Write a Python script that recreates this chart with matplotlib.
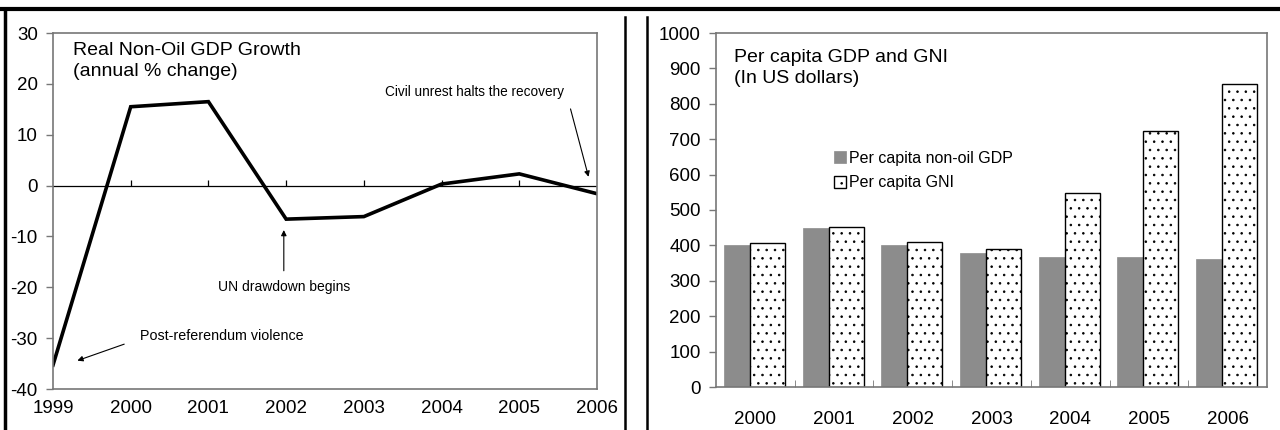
import numpy as np
import matplotlib.pyplot as plt
from matplotlib.lines import Line2D

plt.rcParams['font.family'] = ['Liberation Sans', 'DejaVu Sans']
plt.rcParams['axes.unicode_minus'] = False
plt.rcParams['hatch.linewidth'] = 0.6

# left panel data
years_growth = [1999, 2000, 2001, 2002, 2003, 2004, 2005, 2006]
growth = [-35.3, 15.5, 16.5, -6.6, -6.1, 0.3, 2.3, -1.6]

# right panel data
bar_years = ['2000', '2001', '2002', '2003', '2004', '2005', '2006']
gdp_pc = [402, 448, 402, 378, 367, 367, 362]
gni_pc = [408, 451, 410, 390, 548, 723, 857]

spine_col = '#777777'

fig = plt.figure(figsize=(12.8, 4.3), dpi=100)

# ---- left: growth line
ax1 = fig.add_axes([53/1280, 1-389/430, 544/1280, 356/430])
ax1.plot(years_growth, growth, color='black', lw=2.6, solid_joinstyle='miter')
ax1.axhline(0, color='black', lw=0.9)
ax1.vlines(years_growth[1:-1], 0, 1.1, color='black', lw=0.9)
ax1.set_xlim(1999, 2006)
ax1.set_ylim(-40, 30)
ax1.set_yticks(range(-40, 31, 10))
ax1.set_xticks(years_growth)
ax1.tick_params(axis='x', length=0, pad=8, labelsize=13.5)
ax1.tick_params(axis='y', length=5, width=1, color=spine_col, pad=6, labelsize=13.5)
for s in ax1.spines.values():
    s.set_color(spine_col)
    s.set_linewidth(1.2)

ax1.text(0.037, 0.975, 'Real Non-Oil GDP Growth\n(annual % change)',
         transform=ax1.transAxes, ha='left', va='top', fontsize=14, linespacing=1.3)

# annotations
arr = dict(arrowstyle='-|>', color='black', lw=0.8, mutation_scale=8)
ax1.text(2004.42, 18.4, 'Civil unrest halts the recovery', ha='center', va='center', fontsize=9.8)
ax1.annotate('', xy=(2005.9, 1.2), xytext=(2005.65, 15.6), arrowprops=arr)
ax1.text(2001.97, -19.9, 'UN drawdown begins', ha='center', va='center', fontsize=10)
ax1.annotate('', xy=(2001.97, -8.2), xytext=(2001.97, -17.3), arrowprops=arr)
ax1.text(2001.17, -29.6, 'Post-referendum violence', ha='center', va='center', fontsize=10.3)
ax1.annotate('', xy=(1999.28, -34.6), xytext=(1999.95, -31.0), arrowprops=arr)

# ---- right: per capita bars
ax2 = fig.add_axes([716/1280, 1-387/430, 551/1280, 354/430])
x = np.arange(len(bar_years))
ax2.bar(x - 0.40, gdp_pc, 0.33, align='edge', color='#8c8c8c', edgecolor='#8c8c8c',
        lw=0.5, label='Per capita non-oil GDP')
ax2.bar(x - 0.07, gni_pc, 0.445, align='edge', color='white', edgecolor='black', lw=1.0,
        hatch='..', label='Per capita GNI')
ax2.set_xlim(-0.5, len(bar_years) - 0.5)
ax2.set_ylim(0, 1000)
ax2.set_yticks(range(0, 1001, 100))
ax2.set_xticks(x)
ax2.set_xticklabels(bar_years)
ax2.set_xticks(x[:-1] + 0.5, minor=True)
ax2.tick_params(axis='x', which='major', length=0, pad=17, labelsize=13.5)
ax2.tick_params(axis='x', which='minor', direction='in', length=5, color=spine_col)
ax2.tick_params(axis='y', length=5, width=1, color=spine_col, pad=6, labelsize=13.5)
for s in ax2.spines.values():
    s.set_color(spine_col)
    s.set_linewidth(1.2)

ax2.text(0.033, 0.955, 'Per capita GDP and GNI\n(In US dollars)',
         transform=ax2.transAxes, ha='left', va='top', fontsize=14, linespacing=1.3)
ax2.legend(loc='upper left', bbox_to_anchor=(0.2, 0.69), frameon=False, fontsize=11.5,
           handlelength=0.75, handleheight=0.75, handletextpad=0.2, labelspacing=0.6,
           borderpad=0)

# ---- page frame lines
fig.add_artist(Line2D([0, 1], [1-9/430, 1-9/430], color='black', lw=3))
fig.add_artist(Line2D([5/1280, 5/1280], [0, 1-9/430], color='black', lw=2.5))
fig.add_artist(Line2D([625/1280, 625/1280], [0, 1-17/430], color='black', lw=1.8))
fig.add_artist(Line2D([647/1280, 647/1280], [0, 1-17/430], color='black', lw=1.8))

plt.savefig('out.png', dpi=100)
